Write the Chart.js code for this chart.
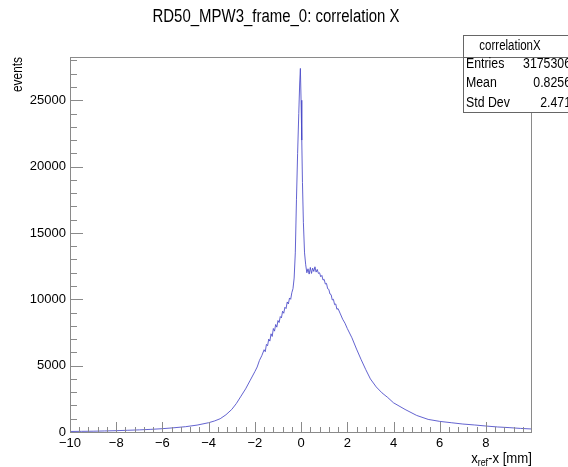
<!DOCTYPE html>
<html>
<head>
<meta charset="utf-8">
<script src="https://cdn.jsdelivr.net/npm/chart.js@4.4.1/dist/chart.umd.min.js"></script>
<style>
  html, body { margin: 0; padding: 0; background: #fff; }
</style>
</head>
<body>
<canvas id="chart" width="568" height="467"></canvas>
<script>
// bin centres (mm) and counts
const binX = [
  -10, -9.5, -9, -8.5, -8, -7.5, -7, -6.5, -6, -5.5, -5, -4.5, -4, -3.75, -3.5, -3.25,
  -3, -2.8, -2.6, -2.4, -2.2, -2, -1.9, -1.8, -1.7,
  -1.6, -1.55, -1.5, -1.45, -1.4, -1.35, -1.3, -1.25, -1.2, -1.15, -1.1, -1.05,
  -1.0, -0.95, -0.9, -0.85, -0.8, -0.75, -0.7, -0.65, -0.6, -0.55, -0.5, -0.45,
  -0.4, -0.35, -0.3, -0.25, -0.2, -0.15, -0.1, -0.06, -0.03, 0, 0.03, 0.06, 0.1, 0.15, 0.2,
  0.25, 0.3, 0.35, 0.4, 0.45, 0.5, 0.55, 0.6, 0.65, 0.7, 0.75, 0.8, 0.85, 0.9, 0.95,
  1.0, 1.05, 1.1, 1.15, 1.2, 1.25, 1.3, 1.35, 1.4, 1.45, 1.5, 1.55, 1.6,
  1.7, 1.8, 1.9, 2.0, 2.2, 2.4, 2.6, 2.8, 3.0, 3.25, 3.5, 3.75, 4.0, 4.5, 5.0, 5.5,
  6.0, 6.5, 7.0, 7.5, 8.0, 8.5, 9.0, 9.5, 9.95
];
const counts = [
  40, 50, 60, 80, 100, 130, 160, 200, 250, 320, 400, 520, 700, 830, 1000, 1300,
  1700, 2150, 2700, 3250, 3900, 4550, 4900, 5400, 5750,
  6200, 6050, 6600, 6500, 7000, 6850, 7400, 7200, 7800, 7600, 8100, 7900,
  8400, 8250, 8700, 8600, 9100, 8950, 9400, 9300, 9800, 9650, 10100, 10000,
  10500, 10800, 11600, 13500, 17500, 21000, 24000, 26300, 27400, 25000, 22000, 18800, 15800, 13500, 12600,
  12000, 12300, 11900, 12400, 11950, 12350, 12100, 12450, 12050, 12250, 11950, 12000, 11700, 11800, 11450,
  11500, 11150, 11200, 10800, 10750, 10400, 10350, 9950, 10000, 9600, 9650, 9250, 9300,
  8900, 8500, 8200, 7800, 7100, 6250, 5450, 4700, 4000, 3400, 2950, 2600, 2200, 1700, 1250, 950,
  800, 700, 600, 530, 450, 380, 330, 270, 230
];

const xTickValues = [-10, -8, -6, -4, -2, 0, 2, 4, 6, 8];
const yTickValues = [0, 5000, 10000, 15000, 20000, 25000];

const statsLabels = ['Entries', 'Mean', 'Std Dev'];
const statsValues = ['3175306', '0.8256', '2.471'];

const xMin = -10, xMax = 9.95, xMinorStep = 0.4;
const yMax = 28260, yMinorStep = 1000;

const LINE = 'rgba(72, 72, 200, 0.85)';
const AXIS = '#8a8a8a';
const FONT = '"Liberation Sans", Arial, sans-serif';

function fmt(v) {
  return v < 0 ? '\u2212' + Math.abs(v) : String(v);
}

// draw text squeezed horizontally by a factor
function squeezed(ctx, text, x, y, sx, align) {
  ctx.save();
  ctx.translate(x, y);
  ctx.scale(sx, 1);
  ctx.textAlign = align;
  ctx.fillText(text, 0, 0);
  ctx.restore();
}

const rootFrame = {
  id: 'rootFrame',
  afterDraw(chart) {
    const { ctx, chartArea: a, scales: { x, y } } = chart;
    ctx.save();
    ctx.strokeStyle = AXIS;
    ctx.lineWidth = 1;
    ctx.strokeRect(a.left + 0.5, a.top + 0.5, a.right - a.left, a.bottom - a.top);

    // ticks drawn inward, ROOT style
    ctx.beginPath();
    for (let i = 0; ; i++) {
      const v = xMin + i * xMinorStep;
      if (v > xMax + 1e-9) break;
      const major = xTickValues.some(t => Math.abs(t - v) < 1e-6);
      const px = Math.round(x.getPixelForValue(v)) + 0.5;
      ctx.moveTo(px, a.bottom);
      ctx.lineTo(px, a.bottom - (major ? 10 : 5));
    }
    for (let v = 0; v <= yMax; v += yMinorStep) {
      const major = yTickValues.includes(v);
      const py = Math.round(y.getPixelForValue(v)) + 0.5;
      ctx.moveTo(a.left, py);
      ctx.lineTo(a.left + (major ? 13 : 7), py);
    }
    ctx.stroke();

    ctx.fillStyle = '#000';
    ctx.textBaseline = 'middle';

    // title
    ctx.font = '18px ' + FONT;
    const tw = ctx.measureText('RD50_MPW3_frame_0: correlation X').width;
    squeezed(ctx, 'RD50_MPW3_frame_0: correlation X', 276, 17, 247 / tw, 'center');

    // y title
    ctx.save();
    ctx.translate(18, a.top);
    ctx.rotate(-Math.PI / 2);
    ctx.font = '14px ' + FONT;
    squeezed(ctx, 'events', 0, 0, 0.85, 'right');
    ctx.restore();

    // x title with subscript
    ctx.textBaseline = 'alphabetic';
    const p1 = 'x', p2 = 'ref', p3 = '-x [mm]';
    ctx.font = '15px ' + FONT;
    const w1 = ctx.measureText(p1).width, w3 = ctx.measureText(p3).width;
    ctx.font = '10px ' + FONT;
    const w2 = ctx.measureText(p2).width;
    const sx = 0.88;
    const tx = a.right + 1 - (w1 + w2 + w3) * sx;
    ctx.save();
    ctx.translate(tx, 463);
    ctx.scale(sx, 1);
    ctx.textAlign = 'left';
    ctx.font = '15px ' + FONT;
    ctx.fillText(p1, 0, 0);
    ctx.font = '10px ' + FONT;
    ctx.fillText(p2, w1, 3);
    ctx.font = '15px ' + FONT;
    ctx.fillText(p3, w1 + w2, 0);
    ctx.restore();

    // stats box
    const bx = 463, by = 35, bw = 140, bh = 77;
    ctx.fillStyle = '#fff';
    ctx.fillRect(bx, by, bw, bh);
    ctx.strokeStyle = '#666';
    ctx.strokeRect(bx + 0.5, by + 0.5, bw, bh);
    ctx.beginPath();
    ctx.moveTo(bx, 57.5);
    ctx.lineTo(bx + bw, 57.5);
    ctx.stroke();
    ctx.fillStyle = '#000';
    ctx.textBaseline = 'middle';
    ctx.font = '14px ' + FONT;
    squeezed(ctx, 'correlationX', 510, 46.5, 0.82, 'center');
    statsLabels.forEach((lab, i) => {
      const ry = 64 + i * 19.5;
      squeezed(ctx, lab, 466, ry, 0.88, 'left');
      squeezed(ctx, statsValues[i], 571, ry, 0.88, 'right');
    });
    ctx.restore();
  }
};

new Chart(document.getElementById('chart'), {
  type: 'line',
  data: {
    datasets: [{
      label: 'correlationX',
      data: binX.map((v, i) => ({ x: v, y: counts[i] })),
      borderColor: LINE,
      borderWidth: 1,
      pointRadius: 0,
      tension: 0,
      fill: false
    }]
  },
  options: {
    responsive: false,
    animation: false,
    layout: { padding: { top: 57, right: 37, left: 0, bottom: 0 } },
    plugins: { legend: { display: false }, tooltip: { enabled: false } },
    scales: {
      x: {
        type: 'linear',
        min: xMin,
        max: xMax,
        grid: { display: false, drawTicks: false },
        border: { display: false },
        afterFit: s => { s.height = 35; },
        afterBuildTicks: s => { s.ticks = xTickValues.map(v => ({ value: v })); },
        ticks: {
          autoSkip: false,
          maxRotation: 0,
          padding: 4,
          color: '#000',
          font: { size: 13, family: FONT },
          callback: v => fmt(v)
        }
      },
      y: {
        min: 0,
        max: yMax,
        grid: { display: false, drawTicks: false },
        border: { display: false },
        afterFit: s => { s.width = 70; },
        afterBuildTicks: s => { s.ticks = yTickValues.map(v => ({ value: v })); },
        ticks: {
          autoSkip: false,
          padding: 4,
          color: '#000',
          font: { size: 13, family: FONT },
          callback: v => String(v)
        }
      }
    }
  },
  plugins: [rootFrame]
});
</script>
</body>
</html>
